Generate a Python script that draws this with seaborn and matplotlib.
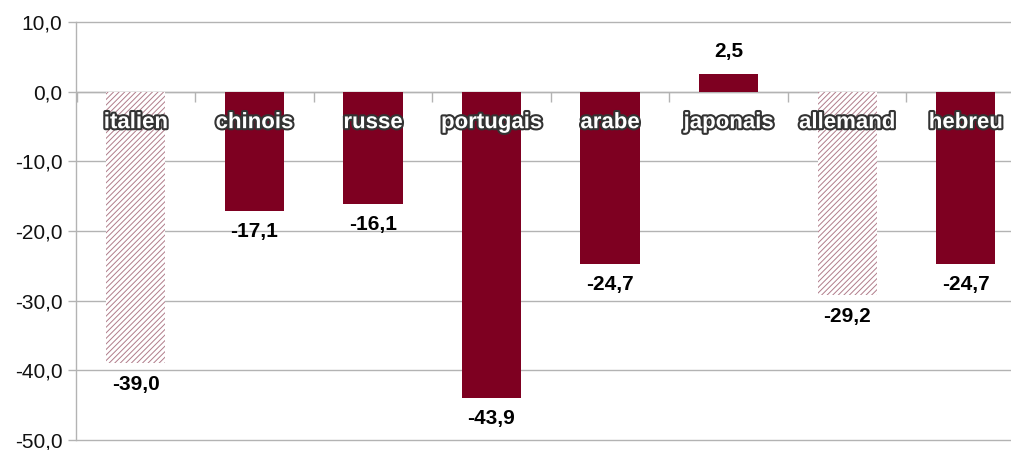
import matplotlib
matplotlib.use("Agg")
import matplotlib.pyplot as plt
import matplotlib.patheffects as pe
from matplotlib.ticker import FuncFormatter, FixedLocator
import seaborn as sns
import pandas as pd

categories = ["italien", "chinois", "russe", "portugais", "arabe", "japonais", "allemand", "hebreu"]
values = [-39.0, -17.1, -16.1, -43.9, -24.7, 2.5, -29.2, -24.7]
hatched = [True, False, False, False, False, False, True, False]
y_ticks = [-50, -40, -30, -20, -10, 0, 10]

BAR = "#7e0021"
GRID = "#b3b3b3"

sns.set_style("white")
plt.rcParams["font.family"] = ["Liberation Sans", "DejaVu Sans"]
plt.rcParams["hatch.linewidth"] = 0.7

df = pd.DataFrame({"cat": categories, "val": values})

fig = plt.figure(figsize=(10.12, 4.5), dpi=100)
ax = fig.add_axes([76.5 / 1012, 10 / 450, (1025 - 76.5) / 1012, 418 / 450])

sns.barplot(data=df, x="cat", y="val", color=BAR, saturation=1, width=0.5,
            linewidth=0, ax=ax, zorder=3)

for patch, h in zip(ax.patches, hatched):
    if h:
        patch.set_facecolor("white")
        patch.set_edgecolor("#b07c8a")
        patch.set_hatch("//////")
        patch.set_linewidth(0)

ax.set_ylim(-50, 10)
ax.set_xlim(-0.5, len(categories) - 0.5)
ax.yaxis.set_major_locator(FixedLocator(y_ticks))
ax.yaxis.set_major_formatter(FuncFormatter(lambda v, p: f"{v:.1f}".replace(".", ",")))
ax.grid(axis="y", color=GRID, linewidth=1, zorder=0)
ax.set_axisbelow(True)
for gl in ax.get_ygridlines():
    gl.set_clip_on(False)

for s in ["top", "right"]:
    ax.spines[s].set_visible(False)
ax.spines["left"].set_color(GRID)
ax.spines["left"].set_linewidth(1)
ax.spines["bottom"].set_position(("data", 0))
ax.spines["bottom"].set_color(GRID)
ax.spines["bottom"].set_linewidth(1)
ax.spines["bottom"].set_zorder(1)

ax.set_xticks([i - 0.5 for i in range(len(categories) + 1)])
ax.set_xticklabels([])
ax.tick_params(axis="x", direction="out", length=7.5, width=1, color=GRID, bottom=True)
ax.tick_params(axis="y", direction="out", length=6, width=1, color=GRID, left=True,
               labelsize=15, labelcolor="#111111", pad=4)
ax.set_xlabel("")
ax.set_ylabel("")

for i, (c, v) in enumerate(zip(categories, values)):
    ax.annotate(c, xy=(i, 0), xytext=(0, -31), textcoords="offset pixels",
                ha="center", va="center", fontsize=16, fontweight="bold", color="white",
                zorder=5,
                path_effects=[pe.withStroke(linewidth=3, foreground="#333333")])
    off = 23 if v >= 0 else -21
    ax.annotate(f"{v:.1f}".replace(".", ","), xy=(i, v), xytext=(0, off),
                textcoords="offset pixels", ha="center", va="center",
                fontsize=15, fontweight="bold", color="black", zorder=5)

fig.savefig("out.png", dpi=100)
